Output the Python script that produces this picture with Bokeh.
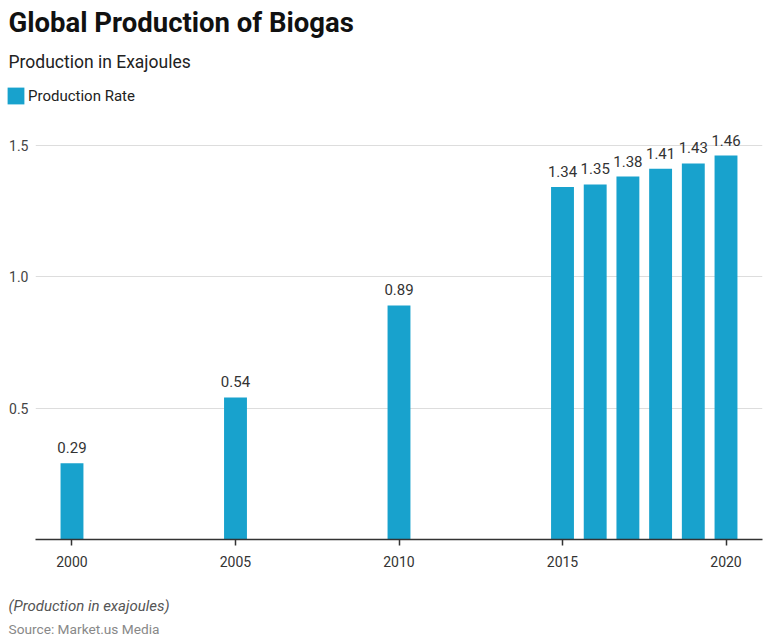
from bokeh.plotting import figure
from bokeh.layouts import column
from bokeh.models import (ColumnDataSource, LabelSet, Label, Range1d, FixedTicker,
                          Legend, LegendItem, NumeralTickFormatter)
from bokeh.core.properties import value
from bokeh.embed import file_html
from bokeh.resources import INLINE

# ---- data ----
years = [2000, 2005, 2010, 2015, 2016, 2017, 2018, 2019, 2020]
production = [0.29, 0.54, 0.89, 1.34, 1.35, 1.38, 1.41, 1.43, 1.46]
value_labels = ["0.29", "0.54", "0.89", "1.34", "1.35", "1.38", "1.41", "1.43", "1.46"]
x_ticks = [2000, 2005, 2010, 2015, 2020]
y_ticks = [0.5, 1.0, 1.5]
title_text = "Global Production of Biogas"
subtitle_text = "Production in Exajoules"
series_name = "Production Rate"
note_text = "(Production in exajoules)"
source_text = "Source: Market.us Media"

BAR = "#18a2cd"
FONT = "Roboto"
W = 768
HEAD_H = 112
MAIN_H = 464
FOOT_H = 66


def no_align(fig):
    if "frame_align" in fig.properties():
        fig.frame_align = False


src = ColumnDataSource(data=dict(x=years, y=production, lbl=value_labels))

# ---------------- header (title, subtitle, legend) ----------------
head = figure(width=W, height=HEAD_H, output_backend="svg", toolbar_location=None,
              x_range=Range1d(0, W), y_range=Range1d(0, HEAD_H),
              x_axis_location=None, y_axis_location=None, min_border=0)
no_align(head)
head.outline_line_color = None
head.xgrid.visible = False
head.ygrid.visible = False
# legend proxy: same series, lies outside the header's visible range
proxy = head.vbar(x="x", top="y", width=0.7, bottom=0, source=src,
                  fill_color=BAR, line_color=None)
head.add_layout(Label(x=8, y=HEAD_H - 22, x_units="screen", y_units="screen",
                      text=title_text, text_font=FONT, text_font_size="27.5px",
                      text_font_style="bold", text_color="#111111",
                      text_baseline="middle"))
head.add_layout(Label(x=8, y=HEAD_H - 61, x_units="screen", y_units="screen",
                      text=subtitle_text, text_font=FONT, text_font_size="17.5px",
                      text_color="#222222", text_baseline="middle"))
legend = Legend(items=[LegendItem(label=series_name, renderers=[proxy])],
                location=(5, HEAD_H - 106), orientation="horizontal",
                glyph_width=21, glyph_height=21, label_standoff=2,
                padding=0, margin=0, border_line_color=None,
                background_fill_alpha=0, label_text_font=FONT,
                label_text_font_size="15px", label_text_color="#222222",
                label_height=21)
head.add_layout(legend, "center")

# ---------------- main chart ----------------
p = figure(width=W, height=MAIN_H, output_backend="svg", toolbar_location=None,
           x_range=Range1d(1998.884, 2021.116), y_range=Range1d(0, 1.6236),
           min_border_left=35, min_border_right=6, min_border_top=0,
           min_border_bottom=37)
no_align(p)
p.outline_line_color = None
p.background_fill_color = "white"
p.border_fill_color = "white"

p.vbar(x="x", top="y", width=0.7, bottom=0, source=src,
       fill_color=BAR, line_color=None)

xa = p.xaxis[0]
xa.ticker = FixedTicker(ticks=x_ticks)
xa.axis_line_color = "#333333"
xa.axis_line_width = 1.5
xa.major_tick_line_color = "#333333"
xa.major_tick_line_width = 1.5
xa.major_tick_out = 6
xa.major_tick_in = 0
xa.minor_tick_line_color = None
xa.major_label_standoff = 10
xa.major_label_text_font = FONT
xa.major_label_text_font_size = "14px"
xa.major_label_text_color = "#333333"

ya = p.yaxis[0]
ya.ticker = FixedTicker(ticks=y_ticks)
ya.formatter = NumeralTickFormatter(format="0.0")
ya.axis_line_color = None
ya.major_tick_line_color = None
ya.minor_tick_line_color = None
ya.major_tick_out = 0
ya.major_tick_in = 0
ya.major_label_standoff = 7
ya.major_label_text_font = FONT
ya.major_label_text_font_size = "14px"
ya.major_label_text_color = "#444444"

p.xgrid.grid_line_color = None
p.ygrid.ticker = FixedTicker(ticks=y_ticks)
p.ygrid.grid_line_color = "#dddddd"
p.ygrid.grid_line_width = 1

labels = LabelSet(x="x", y="y", text="lbl", source=src, text_align="center",
                  text_baseline="alphabetic", y_offset=10,
                  text_font=value(FONT), text_font_size=value("15px"),
                  text_color="#333333")
p.add_layout(labels)

# ---------------- footer ----------------
foot = figure(width=W, height=FOOT_H, output_backend="svg", toolbar_location=None,
              x_range=Range1d(0, W), y_range=Range1d(0, FOOT_H),
              x_axis_location=None, y_axis_location=None, min_border=0)
no_align(foot)
foot.outline_line_color = None
foot.xgrid.visible = False
foot.ygrid.visible = False
foot.add_layout(Label(x=8, y=FOOT_H - 29, x_units="screen", y_units="screen",
                      text=note_text, text_font=FONT, text_font_size="15px",
                      text_font_style="italic", text_color="#555555",
                      text_baseline="middle"))
foot.add_layout(Label(x=8, y=FOOT_H - 52, x_units="screen", y_units="screen",
                      text=source_text, text_font=FONT, text_font_size="13.7px",
                      text_color="#888888", text_baseline="middle"))

layout = column(head, p, foot, spacing=0)
open("out.html", "w").write(file_html(layout, INLINE))
